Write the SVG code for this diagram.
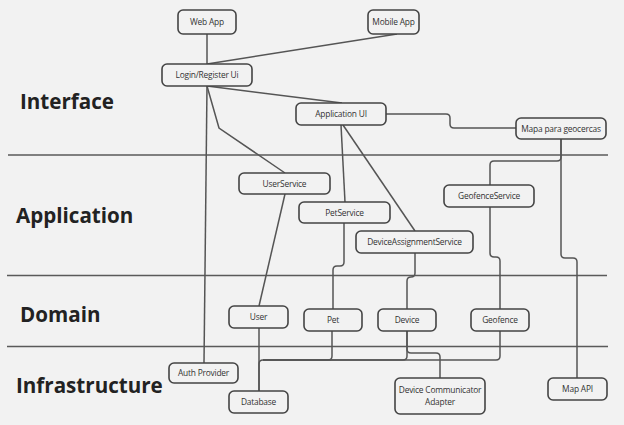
<svg xmlns="http://www.w3.org/2000/svg" width="624" height="425" viewBox="0 0 624 425">
<style>
.bg{fill:#f2f2f2}
.layer{stroke:#5a5a5a;stroke-width:1.5;fill:none}
.lt{font-family:"Open Sans","Noto Sans",sans-serif;font-weight:bold;font-size:20.6px;fill:#222}
.node rect{fill:#f2f2f2;stroke:#444;stroke-width:1.6}
.node text{font-family:"Open Sans","Noto Sans",sans-serif;font-size:8.4px;letter-spacing:-0.2px;fill:#333;text-anchor:middle}
#connectors path{fill:none;stroke:#555;stroke-width:1.5}
</style>
<rect class="bg" x="0" y="0" width="624" height="425"/>
<g id="layers">
<line class="layer" x1="8" y1="155" x2="608" y2="155"/>
<line class="layer" x1="7" y1="275.5" x2="607" y2="275.5"/>
<line class="layer" x1="7" y1="346.5" x2="608" y2="346.5"/>
<text class="lt" x="20" y="109">Interface</text>
<text class="lt" x="16" y="223">Application</text>
<text class="lt" x="20" y="322">Domain</text>
<text class="lt" x="16" y="393">Infrastructure</text>
</g>
<g id="connectors">
<path d="M207,34 V64"/>
<path d="M397,34 L207,64"/>
<path d="M207,86 L342,103"/>
<path d="M207,86 L204,363"/>
<path d="M207,86 L219,128 L285,173"/>
<path d="M341,125 L345,202"/>
<path d="M343,125 L415,231"/>
<path d="M386,114 H446 Q450,114 450,118 V124 Q450,128 454,128 H516"/>
<path d="M561,139 V157 Q561,161 557,161 H494 Q490,161 490,165 V185"/>
<path d="M561,139 V254 Q561,258 565,258 H573 Q577,258 577,262 V378"/>
<path d="M490,207 V253 Q490,257 494,257 H496 Q500,257 500,261 V309"/>
<path d="M285,194 L259,306"/>
<path d="M344,223 V262 Q344,266 340,266 H337 Q333,266 333,270 V309"/>
<path d="M415,253 V273 Q415,277 411,277 Q407,277 407,281 V309"/>
<path d="M259,328 V391"/>
<path d="M332,331 V356 Q332,360 328,360 H263 Q259,360 259,364 V391"/>
<path d="M407,331 V356 Q407,360 403,360 H263"/>
<path d="M500,331 V356 Q500,360 496,360 H263"/>
<path d="M407,331 V349 Q407,353 411,353 H436 Q440,353 440,357 V378"/>
</g>
<g id="web-app" class="node"><rect x="178" y="10" width="58" height="24" rx="5"/><text x="207" y="25">Web App</text></g>
<g id="mobile-app" class="node"><rect x="368" y="10" width="51" height="24" rx="5"/><text x="393.5" y="25">Mobile App</text></g>
<g id="login-register-ui" class="node"><rect x="162" y="64" width="90" height="22" rx="5"/><text x="207" y="78">Login/Register Ui</text></g>
<g id="application-ui" class="node"><rect x="296" y="103" width="90" height="22" rx="5"/><text x="341" y="117">Application UI</text></g>
<g id="mapa-para-geocercas" class="node"><rect x="516" y="118" width="90" height="21" rx="5"/><text x="561" y="131.5">Mapa para geocercas</text></g>
<g id="user-service" class="node"><rect x="239" y="173" width="91" height="21" rx="5"/><text x="284.5" y="186.5">UserService</text></g>
<g id="pet-service" class="node"><rect x="299" y="202" width="91" height="21" rx="5"/><text x="344.5" y="215.5">PetService</text></g>
<g id="geofence-service" class="node"><rect x="444" y="185" width="90" height="22" rx="5"/><text x="489" y="199">GeofenceService</text></g>
<g id="device-assignment-service" class="node"><rect x="356" y="231" width="117" height="22" rx="5"/><text x="414.5" y="245">DeviceAssignmentService</text></g>
<g id="user" class="node"><rect x="229" y="306" width="59" height="22" rx="5"/><text x="258.5" y="320">User</text></g>
<g id="pet" class="node"><rect x="304" y="309" width="58" height="22" rx="5"/><text x="333" y="323">Pet</text></g>
<g id="device" class="node"><rect x="378" y="309" width="58" height="22" rx="5"/><text x="407" y="323">Device</text></g>
<g id="geofence" class="node"><rect x="471" y="309" width="58" height="22" rx="5"/><text x="500" y="323">Geofence</text></g>
<g id="auth-provider" class="node"><rect x="169" y="363" width="69" height="20" rx="5"/><text x="203.5" y="376">Auth Provider</text></g>
<g id="database" class="node"><rect x="229" y="391" width="59" height="22" rx="5"/><text x="258.5" y="405">Database</text></g>
<g id="device-communicator-adapter" class="node"><rect x="395" y="378" width="90" height="36" rx="5"/><text x="440" y="393">Device Communicator</text><text x="440" y="404.5">Adapter</text></g>
<g id="map-api" class="node"><rect x="548" y="378" width="59" height="22" rx="5"/><text x="577.5" y="392">Map API</text></g>
</svg>
